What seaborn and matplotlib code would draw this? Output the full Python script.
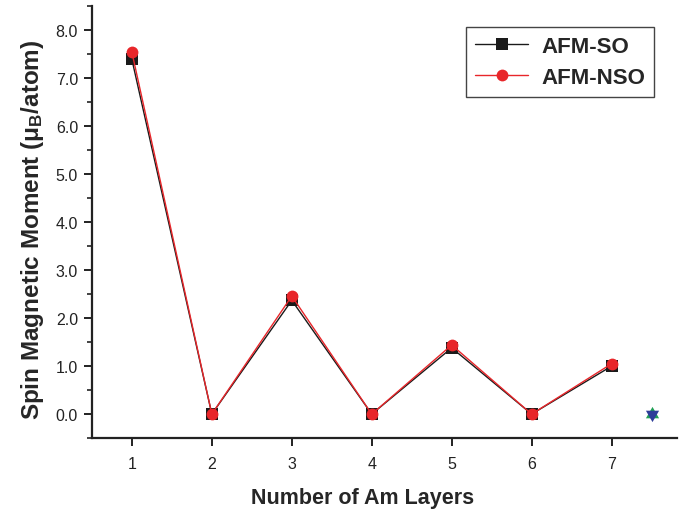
import matplotlib
matplotlib.use("Agg")
import matplotlib.pyplot as plt
import seaborn as sns
import pandas as pd
from matplotlib.ticker import MultipleLocator, FormatStrFormatter

# Spin magnetic moment per Am layer
layers = [1, 2, 3, 4, 5, 6, 7]
afm_so = [7.39, 0.0, 2.37, 0.0, 1.38, 0.0, 1.00]
afm_nso = [7.54, 0.0, 2.46, 0.0, 1.44, 0.0, 1.05]
series_names = ["AFM-SO", "AFM-NSO"]

# reference point drawn as a star
star_x = [7.5]
star_y = [0.0]

sns.set_theme(style="ticks")
plt.rcParams["font.family"] = ["Liberation Sans", "DejaVu Sans"]
plt.rcParams["mathtext.fontset"] = "custom"
plt.rcParams["mathtext.rm"] = "Liberation Sans"
plt.rcParams["mathtext.bf"] = "Liberation Sans:bold"
plt.rcParams["mathtext.it"] = "Liberation Sans:italic"

df = pd.DataFrame({
    "layer": layers * 2,
    "moment": afm_so + afm_nso,
    "series": [series_names[0]] * len(layers) + [series_names[1]] * len(layers),
})

fig = plt.figure(figsize=(6.91, 5.10), dpi=100)
ax = fig.add_axes([0.133, 0.139, 0.847, 0.847])

palette = {"AFM-SO": "#1a1a1a", "AFM-NSO": "#e8262a"}
sns.lineplot(data=df, x="layer", y="moment", hue="series", style="series",
             markers={"AFM-SO": "s", "AFM-NSO": "o"}, dashes=False,
             palette=palette, linewidth=1.0, markersize=8.5,
             markeredgewidth=0, ax=ax)

# six-pointed star made of two centred triangles
ax.scatter(star_x, star_y, marker=(3, 0, 0), s=120, color="#1fa055", linewidths=0, zorder=5)
ax.scatter(star_x, star_y, marker=(3, 0, 180), s=120, color="#2e3d99", linewidths=0, zorder=6)

ax.set_xlim(0.5, 7.82)
ax.set_ylim(-0.5, 8.5)
ax.xaxis.set_major_locator(MultipleLocator(1))
ax.yaxis.set_major_locator(MultipleLocator(1))
ax.yaxis.set_minor_locator(MultipleLocator(0.5))
ax.yaxis.set_major_formatter(FormatStrFormatter("%.1f"))

for side in ("top", "right"):
    ax.spines[side].set_visible(False)
for side in ("left", "bottom"):
    ax.spines[side].set_linewidth(1.6)
    ax.spines[side].set_color("#222222")

ax.tick_params(axis="both", which="major", direction="out", length=6, width=1.4,
               labelsize=11.5, colors="#222222", pad=4)
ax.tick_params(axis="y", which="minor", direction="out", length=3.5, width=1.2,
               colors="#222222")
ax.tick_params(axis="x", which="major", pad=7)

ax.set_xlabel("Number of Am Layers", fontsize=15.5, fontweight="bold")
ax.set_ylabel("Spin Magnetic Moment (\u03bc$_\\mathbf{B}$/atom)", fontsize=17.5,
              fontweight="bold")
ax.xaxis.set_label_coords(0.462, -0.114)
ax.yaxis.set_label_coords(-0.078, 0.484)

leg = ax.legend(loc="upper right", bbox_to_anchor=(0.961, 0.951), frameon=True,
                fancybox=False, edgecolor="#444444", framealpha=1,
                prop={"weight": "bold", "size": 16}, handlelength=2.4,
                handletextpad=0.6, borderpad=0.4, labelspacing=0.45,
                borderaxespad=0)
leg.get_frame().set_linewidth(1.0)
leg.set_title(None)

fig.savefig("out.png", dpi=100)
